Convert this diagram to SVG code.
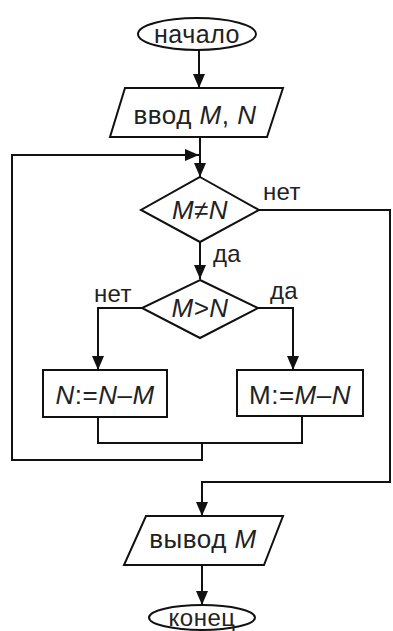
<svg xmlns="http://www.w3.org/2000/svg" width="393" height="631" viewBox="0 0 393 631">
<defs>
<marker id="ah" viewBox="0 0 14 12" refX="14" refY="6" markerWidth="14" markerHeight="12" markerUnits="userSpaceOnUse" orient="auto">
<path d="M0,0 L14,6 L0,12 z" fill="#111"/>
</marker>
</defs>
<style>
.s{fill:#fff;stroke:#111;stroke-width:2}
.c{fill:none;stroke:#111;stroke-width:2}
.a{marker-end:url(#ah)}
text{font-family:"Liberation Sans",Arial,sans-serif;font-size:26px;fill:#222;letter-spacing:0.5px}
.m{text-anchor:middle}
.l{font-size:24px;letter-spacing:0.3px}
.i{font-style:italic}
</style>
<rect width="393" height="631" fill="#fff"/>
<g id="connectors">
<path class="c a" d="M199,50 V88"/>
<path class="c a" d="M200,137 V177"/>
<path class="c" d="M98,417 V443 H302 V416"/>
<path class="c a" d="M202,443 V460 H12 V155 H199"/>
<path class="c a" d="M200,242 V279"/>
<path class="c a" d="M258,210 H390 V482 H202 V516"/>
<path class="c a" d="M142,308 H98 V370"/>
<path class="c a" d="M258,308 H293 V370"/>
<path class="c a" d="M202,565 V605"/>
<text class="l" x="263" y="200">нет</text>
<text class="l" x="213" y="262">да</text>
<text class="l" x="94" y="302">нет</text>
<text class="l" x="270" y="299">да</text>
</g>
<g id="start">
<ellipse class="s" cx="197" cy="34" rx="59" ry="16"/>
<text class="m" x="197" y="43" style="font-size:25px">начало</text>
</g>
<g id="input">
<polygon class="s" points="125,88 283,88 267,137 110,137"/>
<text class="m" x="195" y="124">ввод <tspan class="i">M</tspan>, <tspan class="i">N</tspan></text>
</g>
<g id="cond1">
<polygon class="s" points="200,177 259,210 200,242 141,210"/>
<text class="m i" x="200" y="219">M≠N</text>
</g>
<g id="cond2">
<polygon class="s" points="200,280 258,308 200,338 142,308"/>
<text class="m i" x="200" y="317">M&gt;N</text>
</g>
<g id="assignN">
<rect class="s" x="43" y="370" width="124" height="47"/>
<text class="m" x="105" y="404"><tspan class="i">N</tspan>:=<tspan class="i">N</tspan>–<tspan class="i">M</tspan></text>
</g>
<g id="assignM">
<rect class="s" x="237" y="370" width="126" height="46"/>
<text class="m" x="300" y="404">M:=<tspan class="i">M</tspan>–<tspan class="i">N</tspan></text>
</g>
<g id="output">
<polygon class="s" points="146,516 283,516 264,565 124,565"/>
<text class="m" x="203" y="548">вывод <tspan class="i">M</tspan></text>
</g>
<g id="end">
<ellipse class="s" cx="202" cy="617.5" rx="53" ry="12.5"/>
<text class="m" x="202" y="626" style="font-size:24px">конец</text>
</g>
</svg>
